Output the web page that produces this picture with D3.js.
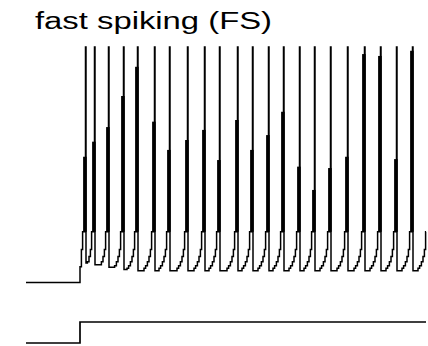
<!DOCTYPE html>
<html>
<head>
<meta charset="utf-8">
<script src="https://cdn.jsdelivr.net/npm/d3@7"></script>
<style>
  html, body { margin: 0; padding: 0; background: #fff; }
  svg { display: block; }
</style>
</head>
<body>
<svg id="chart" width="428" height="346"></svg>
<script>
// ---------------- data ----------------
const title = "fast spiking (FS)";
const tEnd = 100;            // ms, length of trace
const stepT = 13.5;          // ms, time of current step
const restV = -70;           // mV before the step
const stepV = -63.3;         // mV just after the step
const peakV = 30;            // mV spike peak (clipped)
// spike times (ms), downstroke sample
const spikeT = [15, 17.25, 20.75, 24.5, 28, 32.25, 36, 40.5, 44.75, 48.5, 53,
                56.75, 60.75, 64.5, 68.5, 72.25, 76.25, 80.5, 84.75, 88.75, 92.75, 96.75];
// last sample on the upstroke before the peak (mV)
const spikeMidV = [-16.6, -10.2, -4, 9.2, 21.6, -1.7, -13.7, -9.5, -5.2, -18, -1,
                   -13.7, -7.4, 2.5, -20.8, -30.7, -21.4, -16.6, 27, 26.2, -17.6, 28.4];
// after-spike reset value (mV)
const troughV = [-61.7, -62.5, -63.5, -64.5, -65, -65, -65, -65, -65, -65, -65,
                 -65, -65, -65, -65, -65, -65, -65, -65, -65, -65, -65];
// recovery (staircase) before each spike: ms before the spike and mV
const riseOffset = [2.75, 2.35, 1.9, 1.5, 1.15, 0.85];
const riseV      = [-64, -62.9, -61.2, -59, -56, -48.5];
const nextSpikeAfterEnd = 100.75;  // spike that would follow outside the window
// injected current (arbitrary units)
const currentT = [0, 13.5, 100];
const currentI = [0, 1, 1];

// ---------------- scales ----------------
const svg = d3.select("#chart");
const x = d3.scaleLinear().domain([0, tEnd]).range([26, 426]);
const yV = d3.scaleLinear().domain([restV, peakV]).range([282.5, 47]);
const yI = d3.scaleLinear().domain([0, 1]).range([343, 322]);

// ---------------- build voltage samples ----------------
const pts = [[0, restV], [stepT, stepV]];
function addRise(startT, startV, nextT) {
  riseOffset.forEach((o, j) => {
    const t = nextT - o;
    if (t > startT + 0.25 && riseV[j] > startV && t <= tEnd) pts.push([t, riseV[j]]);
  });
}
spikeT.forEach((ts, i) => {
  const prevT = i === 0 ? stepT : spikeT[i - 1];
  const prevV = i === 0 ? stepV : troughV[i - 1];
  addRise(prevT, prevV, ts);
  pts.push([ts - 0.125, peakV]);
  pts.push([ts, troughV[i]]);
});
addRise(spikeT[spikeT.length - 1], troughV[troughV.length - 1], nextSpikeAfterEnd);
pts.push([tEnd, pts[pts.length - 1][1]]);

const vLine = d3.line().x(d => x(d[0])).y(d => yV(d[1])).curve(d3.curveStepAfter);
svg.append("path")
  .attr("d", vLine(pts))
  .attr("fill", "none")
  .attr("stroke", "#000")
  .attr("stroke-width", 1.5);

// thick lower part of each upstroke (pre-spike level up to last upstroke sample)
const preV = riseV[riseV.length - 1];
svg.append("g").selectAll("line")
  .data(spikeT.map((t, i) => ({ t, mid: spikeMidV[i] })))
  .join("line")
  .attr("x1", d => x(d.t) - 1.1)
  .attr("x2", d => x(d.t) - 1.1)
  .attr("y1", yV(preV))
  .attr("y2", d => yV(d.mid))
  .attr("stroke", "#000")
  .attr("stroke-width", 3.6);

// ---------------- current trace ----------------
const iLine = d3.line().x((d, i) => x(currentT[i])).y(d => yI(d)).curve(d3.curveStepAfter);
svg.append("path")
  .attr("d", iLine(currentI))
  .attr("fill", "none")
  .attr("stroke", "#000")
  .attr("stroke-width", 1.7);

// ---------------- title ----------------
svg.append("text")
  .attr("x", 35)
  .attr("y", 28.5)
  .attr("font-family", "'Liberation Sans', Arial, Helvetica, sans-serif")
  .attr("font-size", 23)
  .attr("textLength", 237)
  .attr("lengthAdjust", "spacingAndGlyphs")
  .attr("fill", "#000")
  .text(title);
</script>
</body>
</html>
